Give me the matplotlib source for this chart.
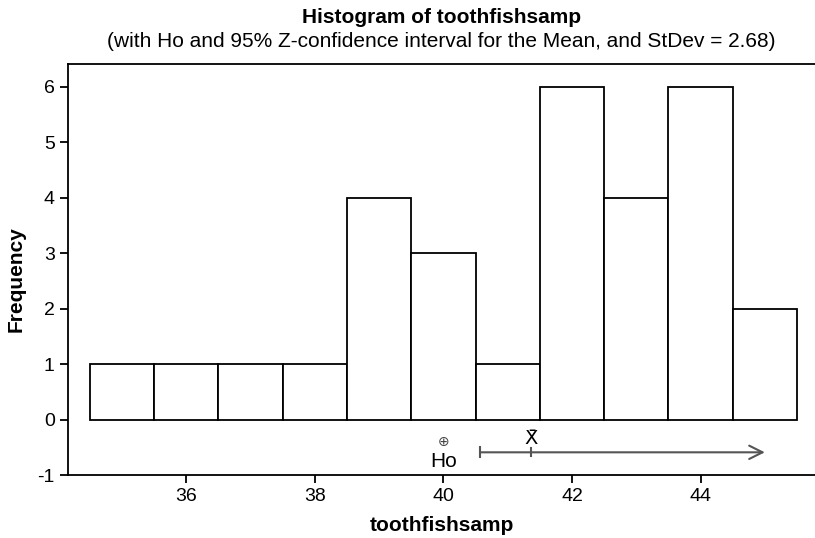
import matplotlib
matplotlib.use("Agg")
import matplotlib.pyplot as plt

plt.rcParams['font.family'] = ['Liberation Sans', 'DejaVu Sans']
plt.rcParams['axes.unicode_minus'] = False

# histogram data (bin centres and counts)
bin_centers = [35, 36, 37, 38, 39, 40, 41, 42, 43, 44, 45]
counts = [1, 1, 1, 1, 4, 3, 1, 6, 4, 6, 2]

# hypothesis test / CI values
ho = 40
xbar = 41.37
ci_lower = 40.57
ci_arrow_end = 45.0

fig = plt.figure(figsize=(8.15, 5.38), dpi=100)
ax = fig.add_axes([0.0834, 0.117, 0.9166, 0.764])

ax.bar(bin_centers, counts, width=1.0, color='white', edgecolor='black', linewidth=1.3)

# confidence interval row
y_ci = -0.59
ax.annotate('', xy=(ci_arrow_end, y_ci), xytext=(ci_lower, y_ci),
            arrowprops=dict(arrowstyle='->', color='#555555', lw=1.5,
                            mutation_scale=24, shrinkA=0, shrinkB=0))
ax.plot([ci_lower, ci_lower], [y_ci - 0.09, y_ci + 0.09], color='#555555', lw=1.5)
ax.plot([xbar, xbar], [y_ci - 0.07, y_ci + 0.07], color='#555555', lw=1.5)
ax.text(xbar, y_ci + 0.08, 'X̄', ha='center', va='bottom', fontsize=14,
        family=['DejaVu Sans'])
ax.text(ho, -0.41, '⊕', ha='center', va='center', fontsize=10, color='#444444',
        family=['DejaVu Sans'])
ax.text(ho, -0.76, 'Ho', ha='center', va='center', fontsize=15)

ax.set_xlim(34.16, 45.78)
ax.set_ylim(-1, 6.41)
ax.set_xticks([36, 38, 40, 42, 44])
ax.set_yticks([-1, 0, 1, 2, 3, 4, 5, 6])
ax.tick_params(labelsize=14, length=6, width=1.3, direction='out')

ax.spines['right'].set_visible(False)
for s in ['left', 'bottom', 'top']:
    ax.spines[s].set_linewidth(1.3)

ax.set_xlabel('toothfishsamp', fontsize=15, fontweight='bold', labelpad=8)
ax.set_ylabel('Frequency', fontsize=15, fontweight='bold')
ax.yaxis.set_label_coords(-0.057, 0.476)

cx = 0.0834 + 0.9166 / 2
fig.text(cx, 0.967, 'Histogram of toothfishsamp', ha='center', va='center',
         fontsize=15, fontweight='bold')
fig.text(cx, 0.922, '(with Ho and 95% Z-confidence interval for the Mean, and StDev = 2.68)',
         ha='center', va='center', fontsize=15)

fig.savefig('out.png', dpi=100)
